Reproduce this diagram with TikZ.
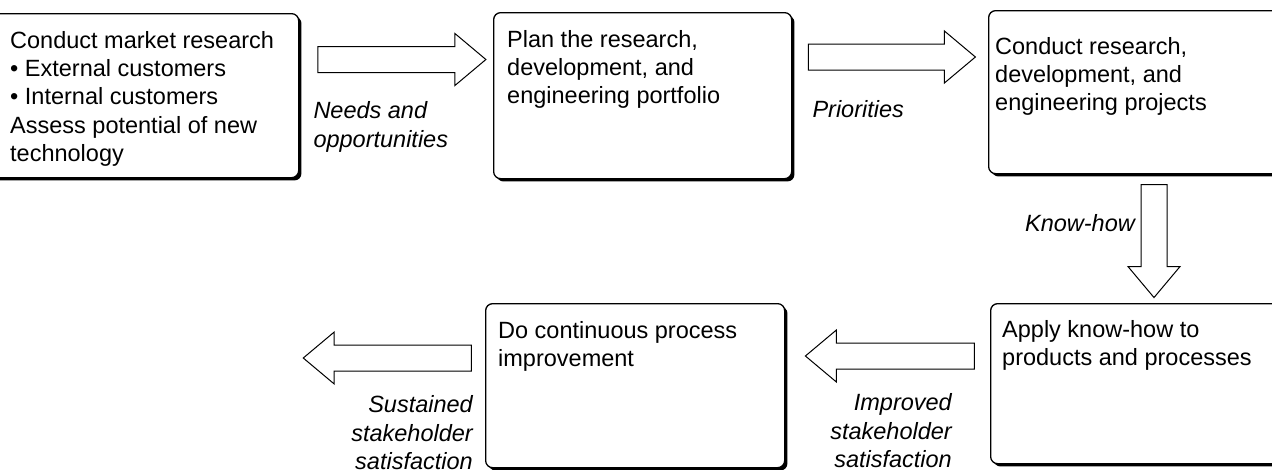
\documentclass[tikz,border=0pt]{standalone}
\usepackage{fontspec}
\setmainfont{Liberation Sans}
\usetikzlibrary{calc}
\usetikzlibrary{shadows}
\usetikzlibrary{shapes.arrows}
\usetikzlibrary{positioning}
\tikzset{procbox/.style={rectangle,rounded corners=7pt,draw=black,line width=1.3pt,fill=white,
    drop shadow={shadow xshift=2.8pt,shadow yshift=-2.8pt,fill=black,opacity=1},
    anchor=north west,inner sep=0pt}}
\tikzset{boxtext/.style={font=\fontsize{23.5}{28.3}\selectfont,align=left,inner sep=0pt,anchor=north west}}
\tikzset{flowlabel/.style={font=\fontsize{23.5}{28.8}\selectfont\itshape,inner sep=0pt}}
\tikzset{fatarrow/.style={single arrow,draw=black,line width=1pt,fill=white,inner xsep=0pt,inner ysep=12.5pt,
    single arrow head extend=13pt,single arrow tip angle=80,single arrow head indent=0pt}}
\tikzset{fatarrowdown/.style={fatarrow,inner xsep=12.5pt,inner ysep=0pt,shape border rotate=270}}

\begin{document}
\begin{tikzpicture}[x=1pt,y=-1pt]
\useasboundingbox (0,0) rectangle (1272,469);
\clip (0,0) rectangle (1272,469);
% process boxes
\node[procbox,minimum width=318,minimum height=164] (b1) at (-20,13) {};
\node[procbox,minimum width=298,minimum height=166] (b2) at (493,12) {};
\node[procbox,minimum width=310,minimum height=163] (b3) at (988,10) {};
\node[procbox,minimum width=310,minimum height=160] (b4) at (990,303) {};
\node[procbox,minimum width=299,minimum height=164] (b5) at (485,303) {};

\node[boxtext] (t1) at ($(b1.north west)+(30,18)$) {Conduct market research\\%
  • External customers\\• Internal customers\\Assess potential of new\\technology};
\node[boxtext] (t2) at ($(b2.north west)+(14,18)$) {Plan the research,\\development, and\\engineering portfolio};
\node[boxtext] (t3) at ($(b3.north west)+(7,27)$) {Conduct research,\\development, and\\engineering projects};
\node[boxtext] (t4) at ($(b4.north west)+(12,17)$) {Apply know-how to\\products and processes};
\node[boxtext] (t5) at ($(b5.north west)+(13,18)$) {Do continuous process\\improvement};

% flow arrows
\node[fatarrow,minimum height=168] (a1) at ($(b1.north east)!.5!(b2.north west)+(-2,47)$) {};
\node[fatarrow,minimum height=167] (a2) at ($(b2.north east)!.5!(b3.north west)+(-6,46)$) {};
\node[fatarrowdown,minimum height=113] (a3) at ($(b3.south west)+(166,59)$) {};
\node[fatarrow,minimum height=169,shape border rotate=180] (a4) at ($(b5.north east)!.5!(b4.north west)+(10,53)$) {};
\node[fatarrow,minimum height=168,shape border rotate=180] (a5) at ($(b5.north west)+(-90,55)$) {};

% labels
\node[flowlabel,anchor=north west,align=left] (l1) at ($(b1.north east)+(14,88)$) {Needs and\\opportunities};
\node[flowlabel,anchor=north west] (l2) at ($(b2.north east)+(20,88)$) {Priorities};
\node[flowlabel,anchor=north east] (l3) at ($(b3.south west)+(147,40)$) {Know-how};
\node[flowlabel,anchor=north east,align=right] (l4) at ($(b4.north west)+(-38,90)$) {Improved\\stakeholder\\satisfaction};
\node[flowlabel,anchor=north east,align=right] (l5) at ($(b5.north west)+(-12,92)$) {Sustained\\stakeholder\\satisfaction};
\end{tikzpicture}
\end{document}
